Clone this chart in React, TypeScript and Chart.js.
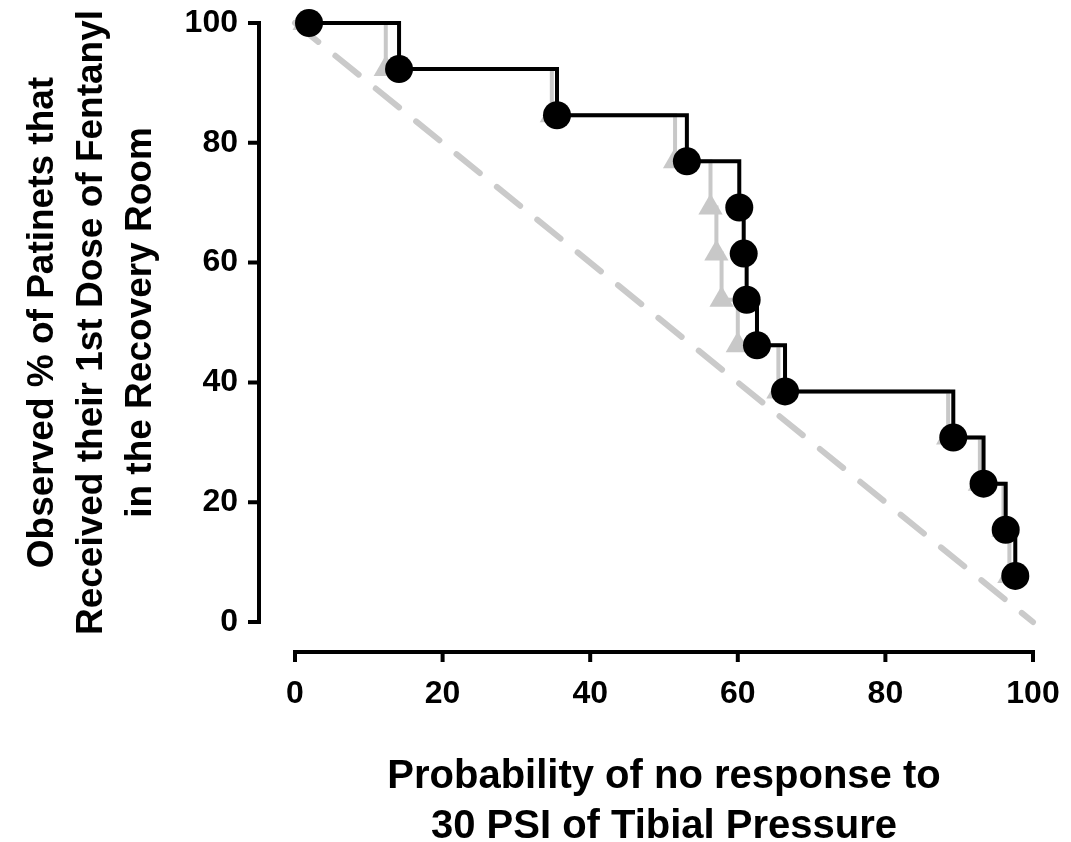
import React, { useEffect, useRef } from 'react';
import { Chart, registerables } from 'chart.js';

Chart.register(...registerables);

// Observed (black circles, step line)
const observedX = [1.9, 14.1, 35.5, 53.1, 60.2, 60.8, 61.2, 62.6, 66.4, 89.2, 93.3, 96.3, 97.6];
const observedY = [100, 92.3, 84.6, 76.9, 69.2, 61.5, 53.8, 46.2, 38.5, 30.8, 23.1, 15.4, 7.7];
// Grey triangles (step line)
const greyX = [1.3, 12.3, 34.8, 51.5, 56.3, 57.1, 57.8, 60.0, 65.5, 88.5, 92.8, 96.0, 96.8];
const greyY = [100, 92.3, 84.6, 76.9, 69.2, 61.5, 53.8, 46.2, 38.5, 30.8, 23.1, 15.4, 7.7];
// Identity (dashed) line
const refX = [0, 100];
const refY = [100, 0];

const xTicks = [0, 20, 40, 60, 80, 100];
const yTicks = [0, 20, 40, 60, 80, 100];

const xTitle = ['Probability of no response to', '30 PSI of Tibial Pressure'];
const yTitle = [
  'Observed % of Patinets that',
  'Received their 1st Dose of Fentanyl',
  'in the Recovery Room',
];

const FONT = "'Liberation Sans', Arial, Helvetica, sans-serif";

const detachedAxes = {
  id: 'detachedAxes',
  afterDraw(chart: any) {
    const { ctx, scales, chartArea } = chart;
    const xs = scales.x;
    const ys = scales.y;
    ctx.save();
    ctx.strokeStyle = '#000';
    ctx.lineWidth = 4;
    ctx.lineJoin = 'miter';
    ctx.lineCap = 'butt';

    // y axis
    const ax = chartArea.left - 36;
    const yTop = ys.getPixelForValue(yTicks[yTicks.length - 1]);
    const yBot = ys.getPixelForValue(yTicks[0]);
    ctx.beginPath();
    ctx.moveTo(ax - 11, yTop);
    ctx.lineTo(ax, yTop);
    ctx.lineTo(ax, yBot);
    ctx.lineTo(ax - 11, yBot);
    ctx.stroke();
    ctx.beginPath();
    yTicks.slice(1, -1).forEach((v) => {
      const p = ys.getPixelForValue(v);
      ctx.moveTo(ax - 11, p);
      ctx.lineTo(ax, p);
    });
    ctx.stroke();

    // x axis
    const ay = chartArea.bottom + 30;
    const xL = xs.getPixelForValue(xTicks[0]);
    const xR = xs.getPixelForValue(xTicks[xTicks.length - 1]);
    ctx.beginPath();
    ctx.moveTo(xL, ay + 10);
    ctx.lineTo(xL, ay);
    ctx.lineTo(xR, ay);
    ctx.lineTo(xR, ay + 10);
    ctx.stroke();
    ctx.beginPath();
    xTicks.slice(1, -1).forEach((v) => {
      const p = xs.getPixelForValue(v);
      ctx.moveTo(p, ay);
      ctx.lineTo(p, ay + 10);
    });
    ctx.stroke();
    ctx.restore();
  },
};

const zeroPadding = (s: any) => {
  s.paddingTop = 0;
  s.paddingBottom = 0;
  s.paddingLeft = 0;
  s.paddingRight = 0;
};

export default function App() {
  const ref = useRef<HTMLCanvasElement | null>(null);

  useEffect(() => {
    if (!ref.current) return;
    Chart.defaults.font.family = FONT;
    const chart = new Chart(ref.current, {
      type: 'line',
      data: {
        datasets: [
          {
            label: 'Observed',
            data: observedX.map((x, i) => ({ x, y: observedY[i] })),
            stepped: 'before',
            borderColor: '#000',
            borderWidth: 4,
            pointStyle: 'circle',
            pointRadius: 14,
            pointBackgroundColor: '#000',
            pointBorderWidth: 0,
            fill: false,
            clip: false,
          },
          {
            label: 'Predicted',
            data: greyX.map((x, i) => ({ x, y: greyY[i] })),
            stepped: 'before',
            borderColor: '#c8c8c8',
            borderWidth: 4,
            pointStyle: 'triangle',
            pointRadius: 14,
            pointBackgroundColor: '#c8c8c8',
            pointBorderWidth: 0,
            fill: false,
            clip: false,
          },
          {
            label: 'Identity',
            data: refX.map((x, i) => ({ x, y: refY[i] })),
            borderColor: '#cacaca',
            borderWidth: 6,
            borderDash: [30, 22],
            borderCapStyle: 'round',
            pointRadius: 0,
            fill: false,
            clip: false,
          },
        ],
      },
      options: {
        animation: false,
        responsive: false,
        devicePixelRatio: 1,
        layout: { padding: { top: 23, right: 38, left: 0, bottom: 0 } },
        plugins: { legend: { display: false }, tooltip: { enabled: false } },
        scales: {
          x: {
            type: 'linear',
            min: 0,
            max: 100,
            afterFit: (s: any) => {
              s.height = 220;
              zeroPadding(s);
            },
            afterBuildTicks: (s: any) => {
              s.ticks = xTicks.map((v) => ({ value: v }));
            },
            grid: { display: false, drawTicks: false },
            border: { display: false },
            ticks: {
              padding: 53,
              color: '#000',
              font: { size: 32, weight: 'bold' },
              maxRotation: 0,
            },
            title: {
              display: true,
              text: xTitle,
              color: '#000',
              font: { size: 40, weight: 'bold', lineHeight: '50px' },
              padding: { top: 0, bottom: -10 },
            },
          },
          y: {
            type: 'linear',
            min: 0,
            max: 100,
            afterFit: (s: any) => {
              s.width = 295;
              zeroPadding(s);
            },
            afterBuildTicks: (s: any) => {
              s.ticks = yTicks.map((v) => ({ value: v }));
            },
            grid: { display: false, drawTicks: false },
            border: { display: false },
            ticks: {
              padding: 57,
              color: '#000',
              font: { size: 32, weight: 'bold' },
            },
            title: {
              display: true,
              text: yTitle,
              color: '#000',
              font: { size: 37, weight: 'bold', lineHeight: '49px' },
              padding: { top: 18, bottom: 0 },
            },
          },
        },
      } as any,
      plugins: [detachedAxes],
    });
    return () => chart.destroy();
  }, []);

  return (
    <div style={{ position: 'absolute', left: 0, top: 0, width: 1071, height: 842, background: '#fff' }}>
      <canvas ref={ref} width={1071} height={842} style={{ display: 'block' }} />
    </div>
  );
}
